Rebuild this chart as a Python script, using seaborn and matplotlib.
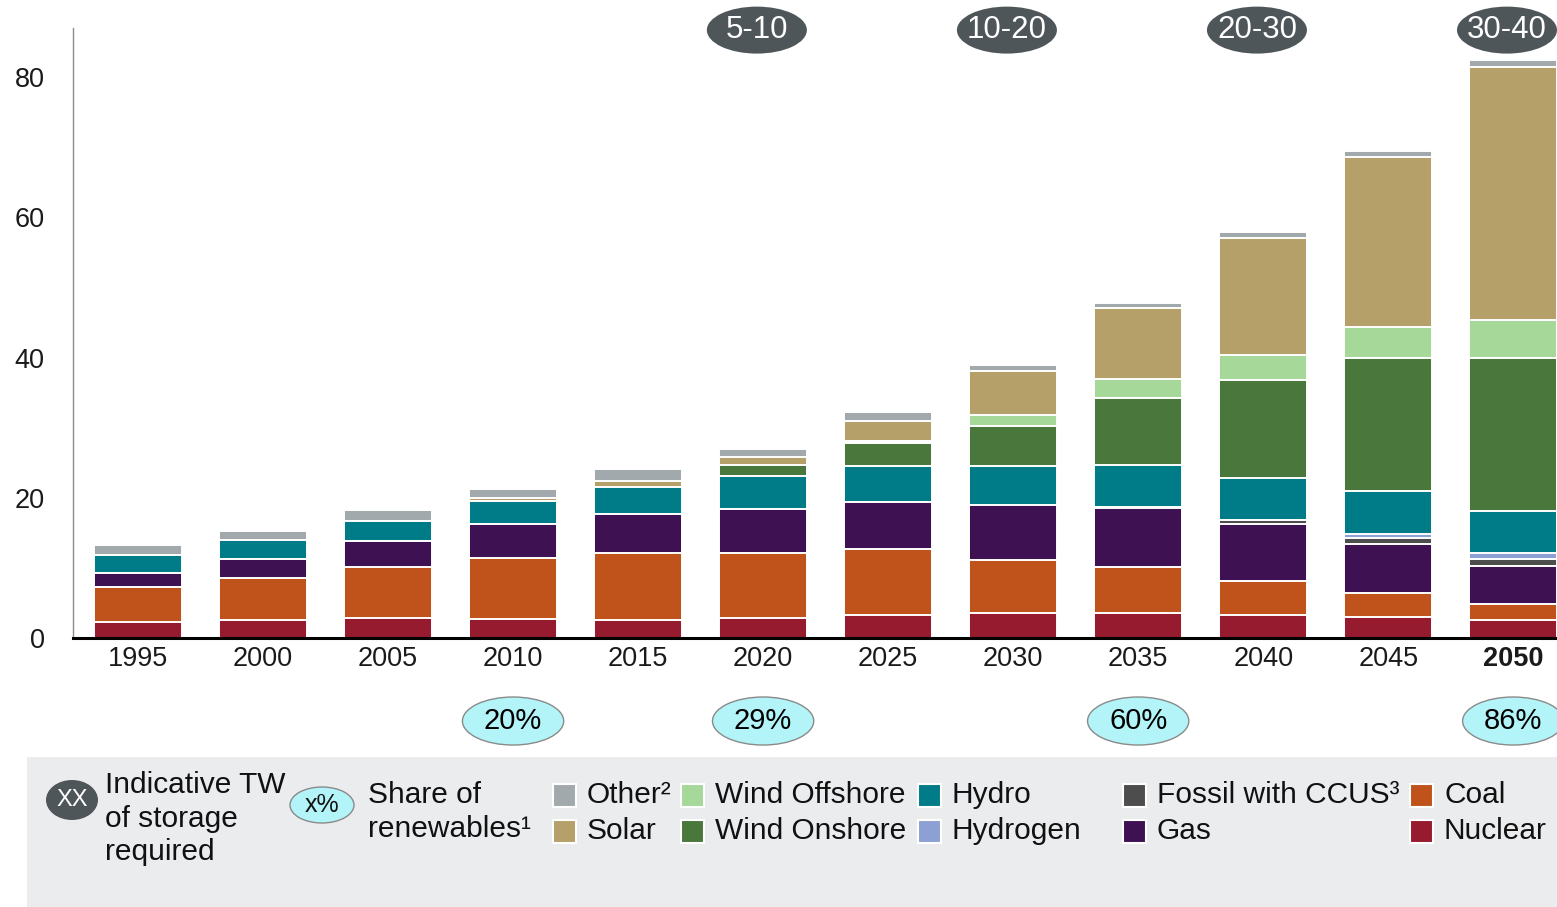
import numpy as np
import pandas as pd
import matplotlib
matplotlib.use("Agg")
import matplotlib.pyplot as plt
from matplotlib.patches import Ellipse, Rectangle
import seaborn as sns

# ---- data (TW of installed capacity by source) ----
years = ["1995", "2000", "2005", "2010", "2015", "2020",
         "2025", "2030", "2035", "2040", "2045", "2050"]

nuclear = [2.3, 2.6, 2.8, 2.7, 2.6, 2.85, 3.3, 3.55, 3.5, 3.3, 2.95, 2.6]
coal = [5.0, 6.0, 7.3, 8.7, 9.5, 9.25, 9.4, 7.55, 6.6, 4.8, 3.45, 2.2]
gas = [2.0, 2.7, 3.7, 4.9, 5.6, 6.3, 6.7, 7.9, 8.4, 8.2, 7.0, 5.5]
fossil_ccus = [0, 0, 0, 0, 0, 0, 0, 0, 0.2, 0.5, 0.9, 1.0]
hydrogen = [0, 0, 0, 0, 0, 0, 0, 0, 0, 0, 0.5, 0.8]
hydro = [2.6, 2.7, 2.9, 3.25, 3.9, 4.7, 5.2, 5.5, 6.0, 6.0, 6.1, 6.0]
wind_onshore = [0, 0, 0, 0, 0, 1.6, 3.2, 5.8, 9.5, 14.0, 19.1, 21.9]
wind_offshore = [0, 0, 0, 0, 0, 0, 0.3, 1.5, 2.7, 3.6, 4.3, 5.3]
solar = [0, 0, 0, 0.4, 0.85, 1.1, 2.9, 6.3, 10.1, 16.7, 24.3, 36.1]
other = [1.3, 1.3, 1.6, 1.25, 1.6, 1.2, 1.2, 0.8, 0.8, 0.8, 0.8, 1.1]

# storage bubbles (TW) above the bars, renewables share below
storage_years = ["2020", "2030", "2040", "2050"]
storage_labels = ["5-10", "10-20", "20-30", "30-40"]
share_years = ["2010", "2020", "2035", "2050"]
share_labels = ["20%", "29%", "60%", "86%"]

yticks = [0, 20, 40, 60, 80]

# stacking order, bottom to top
sources = [
    ("Nuclear", nuclear, "#971B2F"),
    ("Coal", coal, "#C0531C"),
    ("Gas", gas, "#3D1152"),
    ("Fossil with CCUS³", fossil_ccus, "#4D4D4D"),
    ("Hydrogen", hydrogen, "#8DA0D3"),
    ("Hydro", hydro, "#007C89"),
    ("Wind Onshore", wind_onshore, "#4A773C"),
    ("Wind Offshore", wind_offshore, "#A6D89A"),
    ("Solar", solar, "#B5A069"),
    ("Other²", other, "#A2A9AD"),
]

sns.set_style("white")
plt.rcParams["font.family"] = ["Liberation Sans", "DejaVu Sans"]

W, H = 1557, 907
fig = plt.figure(figsize=(W / 100, H / 100), dpi=100)


def fx(px):
    return px / W


def fy(py):
    return 1 - py / H


ax = fig.add_axes([fx(73), fy(638), fx(W - 73), (638 - 28) / H])

# cumulative tops, drawn from the highest layer down so every segment shows
values = np.array([s[1] for s in sources], dtype=float)
tops = np.cumsum(values, axis=0)
for i in range(len(sources) - 1, -1, -1):
    name, _, color = sources[i]
    df = pd.DataFrame({"year": years, "top": tops[i]})
    sns.barplot(data=df, x="year", y="top", order=years, color=color,
                saturation=1, errorbar=None, width=0.7,
                edgecolor="white", linewidth=1.4, ax=ax)

ax.set_xlabel("")
ax.set_ylabel("")
ax.set_xlim(-0.52, 11.35)
ax.set_ylim(0, 87)
ax.set_yticks(yticks)
ax.set_yticklabels([str(t) for t in yticks])
ax.tick_params(axis="y", direction="out", length=7.5, width=1, color="#8C8C8C",
               pad=13, labelsize=19.5, labelcolor="#1a1a1a")
ax.tick_params(axis="x", length=0, pad=6, labelsize=19.5, labelcolor="#1a1a1a")
ax.get_xticklabels()[-1].set_fontweight("bold")

for side in ("top", "right"):
    ax.spines[side].set_visible(False)
ax.spines["left"].set_color("#8C8C8C")
ax.spines["left"].set_linewidth(1)
ax.spines["bottom"].set_color("black")
ax.spines["bottom"].set_linewidth(2.2)
ax.spines["bottom"].set_zorder(5)

# storage requirement bubbles, set a touch left of their bar
for yr, lab in zip(storage_years, storage_labels):
    xpos = years.index(yr) - 0.05
    ax.add_patch(Ellipse((xpos, 86.7), 0.8, 6.7, facecolor="#4F5659",
                         edgecolor="none", clip_on=False, zorder=6))
    ax.text(xpos, 86.7, lab, ha="center", va="center", color="white",
            fontsize=22.5, clip_on=False, zorder=7)

# renewables share bubbles
for yr, lab in zip(share_years, share_labels):
    xpos = years.index(yr)
    ax.add_patch(Ellipse((xpos, -11.84), 0.81, 6.85, facecolor="#B3F4F9",
                         edgecolor="#8A8A8A", linewidth=1, clip_on=False, zorder=6))
    ax.text(xpos, -11.84, lab, ha="center", va="center", color="black",
            fontsize=21, clip_on=False, zorder=7)

# ---- legend panel ----
fig.patches.append(Rectangle((fx(27), 0), 1 - fx(27), (907 - 757) / H,
                             transform=fig.transFigure, facecolor="#EBECEE",
                             edgecolor="none", zorder=0))

fig.patches.append(Ellipse((fx(72), fy(800)), 52 / W, 40 / H,
                           transform=fig.transFigure, facecolor="#4F5659",
                           edgecolor="none", zorder=2))
fig.text(fx(72), fy(800), "XX", ha="center", va="center", color="white",
         fontsize=17, zorder=3)
fig.text(fx(105), fy(771), "Indicative TW\nof storage\nrequired", ha="left",
         va="top", fontsize=21.5, linespacing=1.26, color="#111111")

fig.patches.append(Ellipse((fx(322), fy(805)), 64 / W, 36 / H,
                           transform=fig.transFigure, facecolor="#B3F4F9",
                           edgecolor="#8A8A8A", linewidth=1, zorder=2))
fig.text(fx(322), fy(805), "x%", ha="center", va="center", color="#111111",
         fontsize=18, zorder=3)
fig.text(fx(368), fy(781), "Share of\nrenewables¹", ha="left", va="top",
         fontsize=21.5, linespacing=1.26, color="#111111")

legend_layout = [
    ("Other²", 553, 795), ("Solar", 553, 831),
    ("Wind Offshore", 681, 795), ("Wind Onshore", 681, 831),
    ("Hydro", 918, 795), ("Hydrogen", 918, 831),
    ("Fossil with CCUS³", 1123, 795), ("Gas", 1123, 831),
    ("Coal", 1410, 795), ("Nuclear", 1410, 831),
]
colors = {s[0]: s[2] for s in sources}
sq = 23
for name, px, py in legend_layout:
    fig.patches.append(Rectangle((fx(px), fy(py + sq / 2)), sq / W, sq / H,
                                 transform=fig.transFigure,
                                 facecolor=colors[name], edgecolor="white",
                                 linewidth=1.5, zorder=2))
    fig.text(fx(px + 34), fy(py), name, ha="left", va="center",
             fontsize=21.5, color="#111111")

fig.savefig("out.png", dpi=100)
